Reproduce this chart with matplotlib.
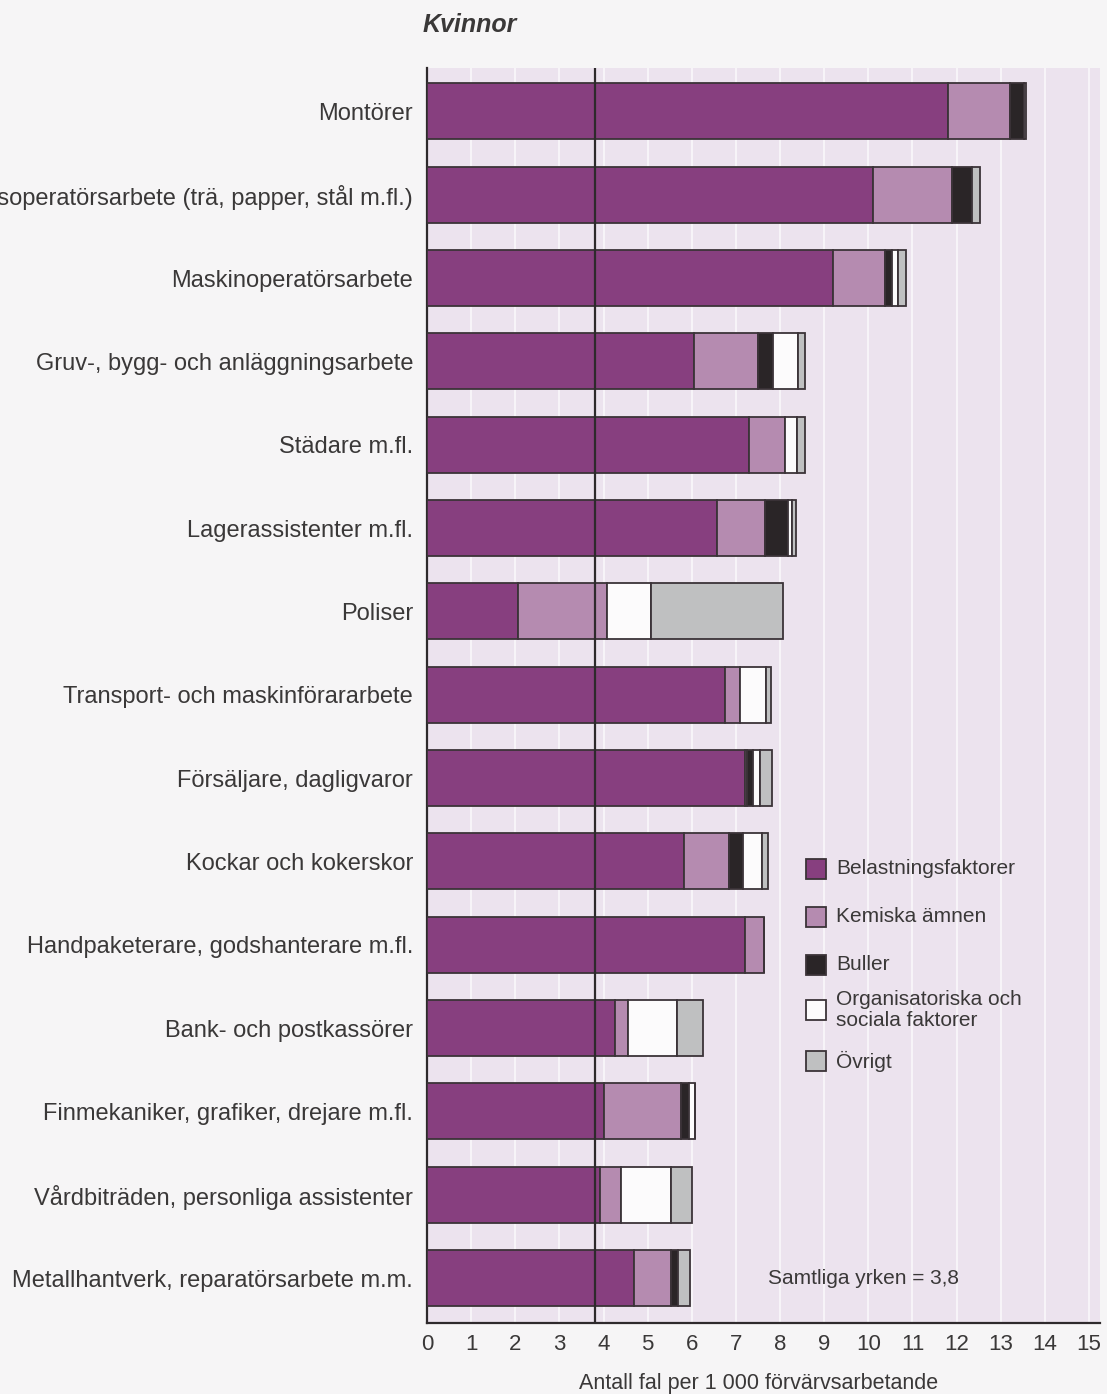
import numpy as np
import matplotlib
matplotlib.use("Agg")
import matplotlib.pyplot as plt
from matplotlib.patches import Rectangle

plt.rcParams['font.family'] = ['Liberation Sans', 'DejaVu Sans']

# occupational groups, top to bottom
yrken = [
    "Montörer",
    "Processoperatörsarbete (trä, papper, stål m.fl.)",
    "Maskinoperatörsarbete",
    "Gruv-, bygg- och anläggningsarbete",
    "Städare m.fl.",
    "Lagerassistenter m.fl.",
    "Poliser",
    "Transport- och maskinförararbete",
    "Försäljare, dagligvaror",
    "Kockar och kokerskor",
    "Handpaketerare, godshanterare m.fl.",
    "Bank- och postkassörer",
    "Finmekaniker, grafiker, drejare m.fl.",
    "Vårdbiträden, personliga assistenter",
    "Metallhantverk, reparatörsarbete m.m.",
]

# cases per 1 000 employed, by cause
belastning = [11.80, 10.10, 9.20, 6.04, 7.30, 6.57, 2.07, 6.76, 7.20, 5.83, 7.20, 4.27, 4.00, 3.91, 4.68]
kemiska    = [1.42, 1.80, 1.18, 1.46, 0.81, 1.08, 2.00, 0.34, 0.05, 1.01, 0.44, 0.28, 1.75, 0.48, 0.85]
buller     = [0.30, 0.46, 0.16, 0.34, 0.00, 0.53, 0.00, 0.00, 0.14, 0.33, 0.00, 0.00, 0.18, 0.00, 0.15]
org_soc    = [0.00, 0.00, 0.14, 0.57, 0.28, 0.08, 1.00, 0.59, 0.15, 0.42, 0.00, 1.11, 0.15, 1.14, 0.00]
ovrigt     = [0.06, 0.17, 0.17, 0.15, 0.17, 0.11, 3.00, 0.11, 0.27, 0.14, 0.00, 0.59, 0.00, 0.47, 0.29]

serier = ["Belastningsfaktorer", "Kemiska ämnen", "Buller",
          "Organisatoriska och\nsociala faktorer", "Övrigt"]
farger = ["#873f7f", "#b58bb0", "#2a2527", "#fcfbfc", "#bfc0c1"]

samtliga = 3.8

bg_plot = "#ece3ee"
txt = "#3a3838"
edge = "#3b3338"

W, H = 1107, 1394
fig = plt.figure(figsize=(W / 100, H / 100), dpi=100, facecolor="#f6f5f6")
ax = fig.add_axes([427/W, 1 - 1323/H, 673/W, 1255/H])
ax.set_facecolor(bg_plot)

y = np.arange(len(yrken))
left = np.zeros(len(yrken))
for vals, namn, c in zip([belastning, kemiska, buller, org_soc, ovrigt], serier, farger):
    vals = np.array(vals)
    ax.barh(y, vals, left=left, height=0.67, color=c, edgecolor=edge,
            linewidth=1.3, label=namn, zorder=3)
    left = left + vals

# all occupations line
ax.axvline(samtliga, color="#2e2a2c", lw=1.6, zorder=5)

ax.set_xlim(0, 15.25)
ax.set_ylim(14.54, -0.52)
ax.set_xticks(np.arange(0, 16))
ax.set_xticklabels([str(i) for i in range(16)], fontsize=16, color=txt)
ax.set_yticks(y)
ax.set_yticklabels(yrken, fontsize=17, color=txt)
ax.tick_params(axis="both", length=0)
ax.tick_params(axis="x", pad=8)
ax.tick_params(axis="y", pad=10)

ax.grid(axis="x", color="#f8f5f9", lw=1.4, zorder=0)
ax.set_axisbelow(True)
for s in ["top", "right"]:
    ax.spines[s].set_visible(False)
for s in ["left", "bottom"]:
    ax.spines[s].set_color("#2e2a2c")
    ax.spines[s].set_linewidth(1.6)

fig.text(759/W, 1 - 1383/H, "Antall fal per 1 000 förvärvsarbetande",
         fontsize=15.5, color=txt, ha="center", va="center")

fig.text(470/W, 1 - 25/H, "Kvinnor", fontsize=18, fontweight="bold",
         fontstyle="italic", color=txt, ha="center", va="center")

# legend, drawn by hand so the two-line entry sits as in the print
leg_y = [869, 917, 965, 1010, 1061]
for namn, c, yy in zip(serier, farger, leg_y):
    fig.add_artist(Rectangle((806/W, 1 - (yy + 10)/H), 20/W, 20/H,
                             transform=fig.transFigure, facecolor=c,
                             edgecolor=edge, linewidth=1.3))
    fig.text(836/W, 1 - yy/H, namn, fontsize=15, color=txt,
             ha="left", va="center", linespacing=1.15)

ax.text(7.73, 14.0, f"Samtliga yrken = {samtliga:.1f}".replace(".", ","),
        fontsize=15, color=txt, ha="left", va="center")

fig.savefig("out.png", dpi=100, facecolor=fig.get_facecolor())
